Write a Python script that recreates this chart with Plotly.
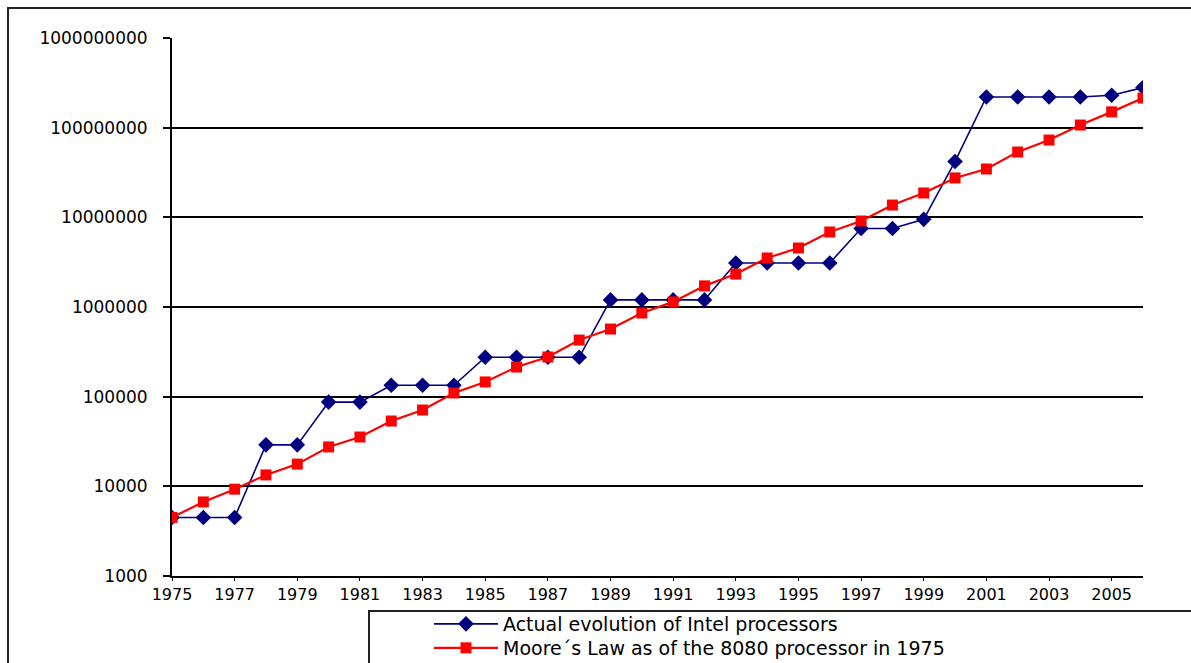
import plotly.graph_objects as go

years = list(range(1975, 2007))

intel_actual = [4500, 4500, 4500, 29000, 29000, 87000, 87000, 134000, 134000, 134000,
                275000, 275000, 275000, 275000, 1200000, 1200000, 1200000, 1200000,
                3100000, 3100000, 3100000, 3100000, 7500000, 7500000, 9500000,
                42000000, 220000000, 220000000, 220000000, 220000000, 230000000, 280000000]

moore_law = [4500, 6700, 9300, 13400, 17700, 27500, 35500, 53500, 71000, 110000,
             146000, 214000, 277000, 428000, 568000, 857000, 1140000, 1720000,
             2330000, 3520000, 4550000, 6860000, 9100000, 13700000, 18700000,
             27500000, 34600000, 53500000, 72800000, 107000000, 150000000, 214000000]

series_names = ["Actual evolution of Intel processors",
                "Moore\u00b4s Law as of the 8080 processor in 1975"]

y_tick_vals = [1e3, 1e4, 1e5, 1e6, 1e7, 1e8, 1e9]
y_tick_text = ["1000", "10000", "100000", "1000000", "10000000", "100000000", "1000000000"]
x_tick_vals = list(range(1975, 2006, 2))
x_tick_text = [str(v) for v in x_tick_vals]

# figure is taller than the window so the cut-off legend box can run past the bottom edge
W, H = 1191, 720
L, R, T, B = 172, 1143, 38, 576


def px(x):
    return (x - L) / (R - L)


def py(y):
    return (B - y) / (B - T)


fig = go.Figure()
fig.add_trace(go.Scatter(
    x=years, y=intel_actual, name=series_names[0], mode="lines+markers",
    line=dict(color="#000080", width=1.6),
    marker=dict(symbol="diamond", size=12, color="#000080"),
    legend="legend",
))
fig.add_trace(go.Scatter(
    x=years, y=moore_law, name=series_names[1], mode="lines+markers",
    line=dict(color="#FF0000", width=2.2),
    marker=dict(symbol="square", size=11, color="#FF0000"),
    legend="legend2",
))

leg_font = dict(family="DejaVu Sans", size=19, color="black")
fig.update_layout(
    width=W, height=H,
    margin=dict(l=L, r=W - R, t=T, b=H - B, pad=0),
    paper_bgcolor="white", plot_bgcolor="white",
    font=dict(family="DejaVu Sans", color="black"),
    showlegend=True,
    legend=dict(
        x=px(429), y=py(624), xanchor="left", yanchor="middle",
        font=leg_font, bgcolor="rgba(0,0,0,0)", borderwidth=0, itemwidth=64,
    ),
    legend2=dict(
        x=px(429), y=py(648), xanchor="left", yanchor="middle",
        font=leg_font, bgcolor="rgba(0,0,0,0)", borderwidth=0, itemwidth=64,
    ),
    shapes=[
        dict(type="rect", xref="paper", yref="paper",
             x0=px(8), x1=px(1220), y0=py(8), y1=py(760),
             line=dict(color="#222", width=2), layer="below"),
        dict(type="rect", xref="paper", yref="paper",
             x0=px(369), x1=px(1220), y0=py(611), y1=py(760),
             line=dict(color="#222", width=2), fillcolor="white", layer="above"),
    ],
)

fig.update_xaxes(
    range=[1975, 2006], tickvals=x_tick_vals, ticktext=x_tick_text,
    showgrid=False, zeroline=False, showline=True, linecolor="black", linewidth=2,
    ticks="outside", ticklen=3, tickcolor="black", tickwidth=1,
    tickfont=dict(size=16, family="DejaVu Sans", color="black"),
)
fig.update_yaxes(
    type="log", range=[3, 9], tickvals=y_tick_vals, ticktext=y_tick_text,
    showgrid=True, gridcolor="black", gridwidth=2,
    zeroline=False, showline=True, linecolor="black", linewidth=2,
    ticks="outside", ticklen=7, tickcolor="black", tickwidth=2,
    ticklabelstandoff=12,
    tickfont=dict(size=17, family="DejaVu Sans", color="black"),
)

page_css = ("document.documentElement.style.overflow='hidden';"
            "document.body.style.overflow='hidden';"
            "document.body.style.margin='0';")
fig.write_html("out.html", post_script=page_css, config={"displayModeBar": False})
